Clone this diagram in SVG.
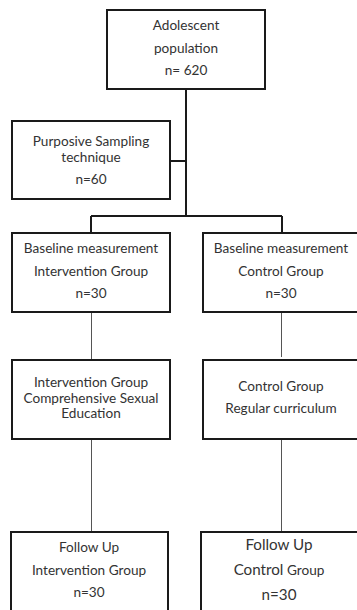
<svg xmlns="http://www.w3.org/2000/svg" width="357" height="610" viewBox="0 0 357 610">
<style>
.box{fill:#fff;stroke:#1a1a1a;stroke-width:2}
.t{font-family:Lato,"Open Sans","Liberation Sans",sans-serif;font-size:13.6px;fill:#333;text-anchor:middle}
.big{font-size:15.2px}
.thick{stroke:#1a1a1a;stroke-width:2;fill:none}
.thin{stroke:#555;stroke-width:1;fill:none}
</style>
<g id="connectors">
<path class="thick" d="M186,89 V216 M170,161 H186 M91,216 H282 M91,216 V233 M282,216 V233"/>
<path class="thin" d="M91.5,312 V360 M281.5,312 V357 M91.5,439 V532 M281.5,439 V532"/>
</g>
<g id="n1"><rect class="box" x="107" y="10" width="158" height="79"/>
<text class="t" x="186" y="30">Adolescent</text><text class="t" x="186" y="53">population</text><text class="t" x="186" y="75">n= 620</text></g>
<g id="n2"><rect class="box" x="12" y="121" width="158" height="78"/>
<text class="t" x="91" y="146">Purposive Sampling</text><text class="t" x="91" y="162">technique</text><text class="t" x="91" y="184">n=60</text></g>
<g id="n3"><rect class="box" x="12" y="233" width="158" height="79"/>
<text class="t" x="91" y="253">Baseline measurement</text><text class="t" x="91" y="276">Intervention Group</text><text class="t" x="91" y="298">n=30</text></g>
<g id="n4"><rect class="box" x="203" y="233" width="170" height="79"/>
<text class="t" x="281" y="253">Baseline measurement</text><text class="t" x="281" y="276">Control Group</text><text class="t" x="281" y="298">n=30</text></g>
<g id="n5"><rect class="box" x="12" y="360" width="158" height="79"/>
<text class="t" x="91" y="387">Intervention Group</text><text class="t" x="91" y="403">Comprehensive Sexual</text><text class="t" x="91" y="418">Education</text></g>
<g id="n6"><rect class="box" x="203" y="360" width="170" height="79"/>
<text class="t" x="281" y="391">Control Group</text><text class="t" x="281" y="413">Regular curriculum</text></g>
<g id="n7"><rect class="box" x="11" y="532" width="157" height="90"/>
<text class="t" x="89" y="552">Follow Up</text><text class="t" x="89" y="575">Intervention Group</text><text class="t" x="89" y="597">n=30</text></g>
<g id="n8"><rect class="box" x="201" y="532" width="170" height="90"/>
<text class="t big" x="279" y="550">Follow Up</text><text class="t" x="279" y="575"><tspan class="big">Control</tspan> Group</text><text class="t big" x="279" y="600">n=30</text></g>
</svg>
